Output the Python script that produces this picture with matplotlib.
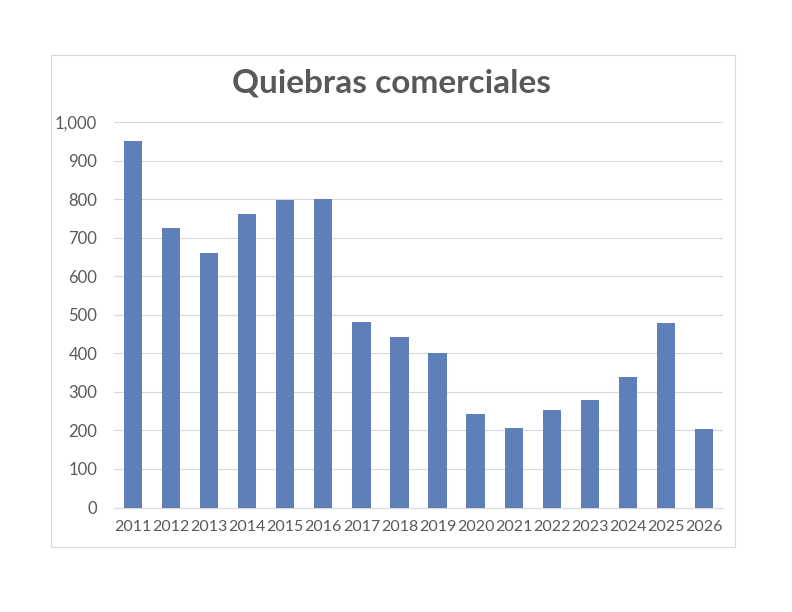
import matplotlib
matplotlib.use("Agg")
import matplotlib.pyplot as plt
from matplotlib.patches import Rectangle
from matplotlib.ticker import FuncFormatter

years = ["2011", "2012", "2013", "2014", "2015", "2016", "2017", "2018",
         "2019", "2020", "2021", "2022", "2023", "2024", "2025", "2026"]
values = [951, 725, 661, 762, 797, 800, 482, 443, 402, 243, 207, 252, 279, 338, 478, 204]
yticks = [0, 100, 200, 300, 400, 500, 600, 700, 800, 900, 1000]
title = "Quiebras comerciales"

plt.rcParams['font.family'] = ['Lato', 'DejaVu Sans']
W, H = 792, 612
fig = plt.figure(figsize=(W / 100, H / 100), dpi=100)
fig.patch.set_facecolor("white")

# chart border
fig.patches.append(Rectangle((50.7 / W, 1 - 547 / H), (735 - 50.7) / W, (547 - 54.7) / H,
                             transform=fig.transFigure, fill=False,
                             edgecolor="#d9d9d9", linewidth=0.8))

ax = fig.add_axes([114 / W, 1 - 507.5 / H, (723 - 114) / W, (507.5 - 122.3) / H])
x = list(range(len(years)))
ax.bar(x, values, width=0.48, color="#5f7fb9", zorder=3)
ax.set_xlim(-0.5, len(years) - 0.5)
ax.set_ylim(0, 1000)
ax.set_yticks(yticks)
ax.yaxis.set_major_formatter(FuncFormatter(lambda v, p: f"{int(v):,}"))
ax.set_xticks(x)
ax.set_xticklabels(years)
ax.grid(axis="y", color="#d9d9d9", linewidth=0.8, zorder=0)
for s in ["top", "right", "left"]:
    ax.spines[s].set_visible(False)
ax.spines["bottom"].set_color("#d9d9d9")
ax.spines["bottom"].set_linewidth(0.8)
ax.tick_params(axis="both", length=0, colors="#595959")
ax.tick_params(axis="y", pad=12, labelsize=12)
ax.tick_params(axis="x", pad=9, labelsize=11.5)

fig.text(391 / W, 1 - 83 / H, title, ha="center", va="center",
         fontsize=24, fontweight="bold", color="#595959")

fig.savefig("out.png", dpi=100, facecolor="white")
